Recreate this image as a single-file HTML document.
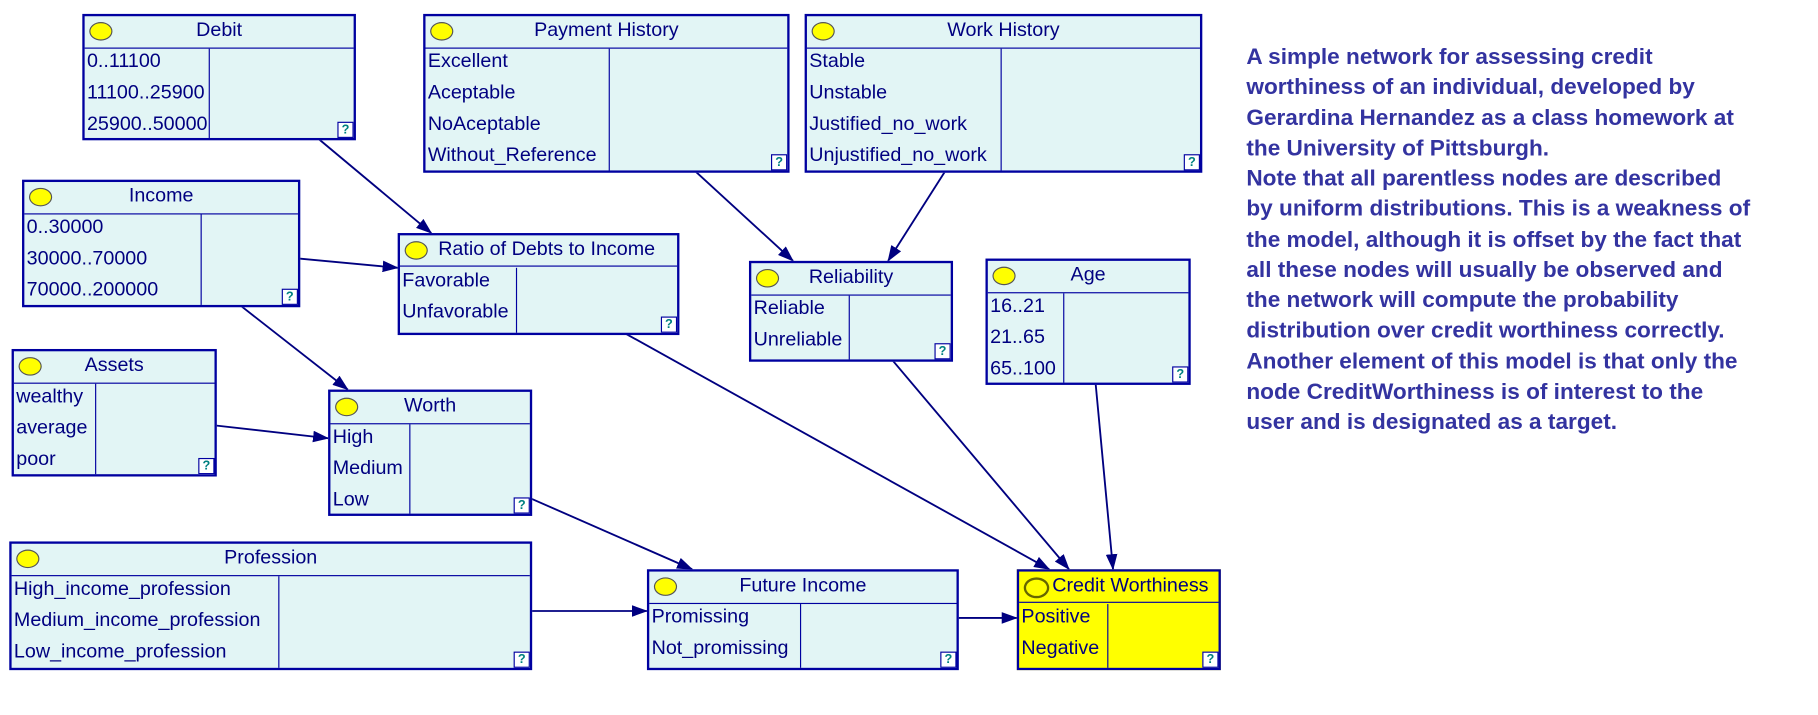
<!DOCTYPE html>
<html><head><meta charset="utf-8"><style>
html,body{margin:0;padding:0;background:#fff;overflow:hidden}
#wrap{position:absolute;left:0;top:0;width:1568px;height:617px;transform:scale(1.1594);transform-origin:0 0;font-family:"Liberation Sans",Arial,sans-serif;color:#000080}
.n{position:absolute;box-sizing:border-box;border:2px solid #0000a0;background:#e2f5f5}
.h{position:absolute;left:0;right:0;top:0;height:27px;border-bottom:1px solid #0000a0;text-align:center;font-size:17px;line-height:23px}
.h i{position:absolute;left:4px;top:5px;width:18px;height:14px;border-radius:50%;background:#ffff00;border:1px solid #555}
.b{position:absolute;left:0;right:0;top:28px;bottom:0}
.d{position:absolute;top:0;bottom:0;border-left:1px solid #0000a0}
.r{position:absolute;left:2px;font-size:17px;line-height:21px;white-space:nowrap}
.q{position:absolute;right:0;bottom:0;width:12px;height:12px;background:#fff;border:1px solid #0000a0;font-size:11px;font-weight:bold;color:#008080;line-height:12px;text-align:center}
.y{background:#ffff00}
.y .h i{background:transparent;border:2px solid #666600}
#txt{position:absolute;left:1075px;top:36px;white-space:nowrap;font-weight:bold;font-size:19.5px;line-height:26.25px;color:#3333a0}
svg{position:absolute;left:0;top:0}
</style></head><body><div id="wrap">
<svg width="1568" height="617"><defs><marker id="a" markerWidth="14" markerHeight="10" refX="13" refY="5" orient="auto" markerUnits="userSpaceOnUse"><path d="M0,0L14,5L0,10z" fill="#000080"/></marker></defs>
<g stroke="#000080" stroke-width="1.6" marker-end="url(#a)">
<line x1="275" y1="120" x2="372" y2="201"/>
<line x1="258" y1="223" x2="343" y2="231"/>
<line x1="208" y1="264" x2="300" y2="336"/>
<line x1="186" y1="367" x2="283" y2="378"/>
<line x1="600" y1="148" x2="684" y2="225"/>
<line x1="815" y1="148" x2="766" y2="225"/>
<line x1="540" y1="288" x2="905" y2="491"/>
<line x1="770" y1="311" x2="922" y2="491"/>
<line x1="945" y1="331" x2="960" y2="491"/>
<line x1="458" y1="430" x2="597" y2="491"/>
<line x1="458" y1="527" x2="558" y2="527"/>
<line x1="826" y1="533" x2="877" y2="533"/>
</g></svg>

<div class="n" style="left:71px;top:12px;width:236px;height:109px"><div class="h"><i></i>Debit</div><div class="b"><div class="d" style="left:107px"></div><div class="r" style="top:0">0..11100</div><div class="r" style="top:27px">11100..25900</div><div class="r" style="top:54px">25900..50000</div><div class="q">?</div></div></div>

<div class="n" style="left:365px;top:12px;width:316px;height:137px"><div class="h"><i></i>Payment History</div><div class="b"><div class="d" style="left:158px"></div><div class="r" style="top:0">Excellent</div><div class="r" style="top:27px">Aceptable</div><div class="r" style="top:54px">NoAceptable</div><div class="r" style="top:81px">Without_Reference</div><div class="q">?</div></div></div>

<div class="n" style="left:694px;top:12px;width:343px;height:137px"><div class="h"><i></i>Work History</div><div class="b"><div class="d" style="left:167px"></div><div class="r" style="top:0">Stable</div><div class="r" style="top:27px">Unstable</div><div class="r" style="top:54px">Justified_no_work</div><div class="r" style="top:81px">Unjustified_no_work</div><div class="q">?</div></div></div>

<div class="n" style="left:19px;top:155px;width:240px;height:110px"><div class="h"><i></i>Income</div><div class="b"><div class="d" style="left:152px"></div><div class="r" style="top:0">0..30000</div><div class="r" style="top:27px">30000..70000</div><div class="r" style="top:54px">70000..200000</div><div class="q">?</div></div></div>

<div class="n" style="left:343px;top:201px;width:243px;height:88px"><div class="h" style="padding-left:14px;box-sizing:border-box"><i></i>Ratio of Debts to Income</div><div class="b"><div class="d" style="left:100px"></div><div class="r" style="top:0">Favorable</div><div class="r" style="top:27px">Unfavorable</div><div class="q">?</div></div></div>

<div class="n" style="left:646px;top:225px;width:176px;height:87px"><div class="h"><i></i>Reliability</div><div class="b"><div class="d" style="left:84px"></div><div class="r" style="top:0">Reliable</div><div class="r" style="top:27px">Unreliable</div><div class="q">?</div></div></div>

<div class="n" style="left:850px;top:223px;width:177px;height:109px"><div class="h"><i></i>Age</div><div class="b"><div class="d" style="left:65px"></div><div class="r" style="top:0">16..21</div><div class="r" style="top:27px">21..65</div><div class="r" style="top:54px">65..100</div><div class="q">?</div></div></div>

<div class="n" style="left:10px;top:301px;width:177px;height:110px"><div class="h"><i></i>Assets</div><div class="b"><div class="d" style="left:70px"></div><div class="r" style="top:0">wealthy</div><div class="r" style="top:27px">average</div><div class="r" style="top:54px">poor</div><div class="q">?</div></div></div>

<div class="n" style="left:283px;top:336px;width:176px;height:109px"><div class="h"><i></i>Worth</div><div class="b"><div class="d" style="left:68px"></div><div class="r" style="top:0">High</div><div class="r" style="top:27px">Medium</div><div class="r" style="top:54px">Low</div><div class="q">?</div></div></div>

<div class="n" style="left:8px;top:467px;width:451px;height:111px"><div class="h"><i></i>Profession</div><div class="b"><div class="d" style="left:230px"></div><div class="r" style="top:0">High_income_profession</div><div class="r" style="top:27px">Medium_income_profession</div><div class="r" style="top:54px">Low_income_profession</div><div class="q">?</div></div></div>

<div class="n" style="left:558px;top:491px;width:269px;height:87px"><div class="h"><i></i>Future Income</div><div class="b"><div class="d" style="left:130px"></div><div class="r" style="top:0">Promissing</div><div class="r" style="top:27px">Not_promissing</div><div class="q">?</div></div></div>

<div class="n y" style="left:877px;top:491px;width:176px;height:87px"><div class="h" style="padding-left:20px;box-sizing:border-box"><i></i>Credit Worthiness</div><div class="b"><div class="d" style="left:76px"></div><div class="r" style="top:0">Positive</div><div class="r" style="top:27px">Negative</div><div class="q">?</div></div></div>

<div id="txt">A simple network for assessing credit<br>worthiness of an individual, developed by<br>Gerardina Hernandez as a class homework at<br>the University of Pittsburgh.<br>Note that all parentless nodes are described<br>by uniform distributions. This is a weakness of<br>the model, although it is offset by the fact that<br>all these nodes will usually be observed and<br>the network will compute the probability<br>distribution over credit worthiness correctly.<br>Another element of this model is that only the<br>node CreditWorthiness is of interest to the<br>user and is designated as a target.</div>
</div></body></html>
